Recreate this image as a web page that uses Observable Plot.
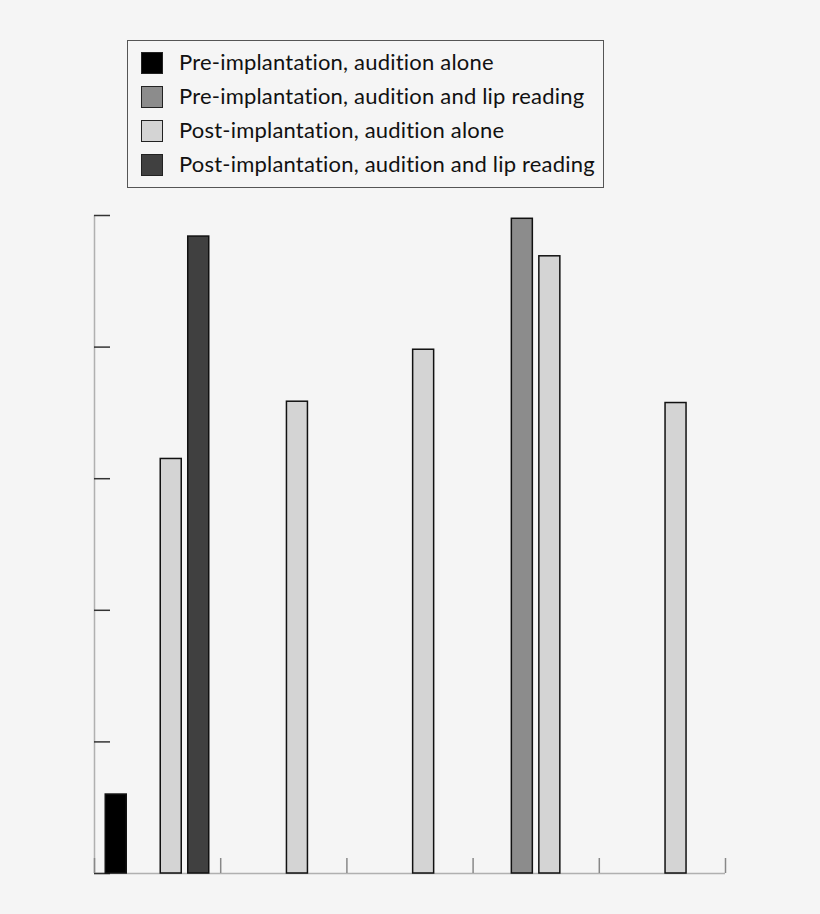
<!DOCTYPE html>
<html>
<head>
<meta charset="utf-8">
<script src="https://cdn.jsdelivr.net/npm/d3@7"></script>
<script src="https://cdn.jsdelivr.net/npm/@observablehq/plot@0.6"></script>
<style>
  html, body { margin: 0; padding: 0; background: #f5f5f5; }
  #wrap { position: relative; width: 820px; height: 914px; background: #f5f5f5; }
  #legend { position: absolute; left: 127px; top: 40px; width: 475px; height: 146px;
    border: 1px solid #555; background: #f5f5f5; font-family: Lato, "Noto Sans", sans-serif;
    font-size: 22px; letter-spacing: 0.2px; color: #111; }
  .row { position: absolute; left: 0; height: 34px; display: flex; align-items: center; }
  .sw { width: 20px; height: 20px; border: 1.5px solid #222; margin-left: 13px; margin-right: 16px; }
  .row span { position: relative; top: -2px; }
  #chart { position: absolute; left: 0; top: 200px; }
</style>
</head>
<body>
<div id="wrap">
  <div id="legend"></div>
  <div id="chart"></div>
</div>
<script>
const groups = ["1", "2", "3", "4", "5"];
const seriesNames = [
  "Pre-implantation, audition alone",
  "Pre-implantation, audition and lip reading",
  "Post-implantation, audition alone",
  "Post-implantation, audition and lip reading"
];
const seriesColors = ["#000000", "#8c8c8c", "#d4d4d4", "#404040"];
const preAlone = [12, null, null, null, null];
const preLip = [null, null, null, 99.5, null];
const postAlone = [63, 71.7, 79.6, 93.8, 71.5];
const postLip = [96.8, null, null, null, null];
const yTicks = [0, 20, 40, 60, 80, 100];

const seriesValues = [preAlone, preLip, postAlone, postLip];
const data = [];
seriesValues.forEach((vals, si) => {
  vals.forEach((v, gi) => {
    if (v != null) data.push({group: groups[gi], gi, si, series: seriesNames[si], value: v});
  });
});

// legend
const legend = document.getElementById("legend");
seriesNames.forEach((name, i) => {
  const row = document.createElement("div");
  row.className = "row";
  row.style.top = (5 + i * 34) + "px";
  const sw = document.createElement("div");
  sw.className = "sw";
  sw.style.background = seriesColors[i];
  const t = document.createElement("span");
  t.textContent = name;
  row.appendChild(sw); row.appendChild(t);
  legend.appendChild(row);
});

const off = 0.0891, pitch = 0.2179, bw = 0.1664;
const chart = Plot.plot({
  width: 820,
  height: 714,
  marginLeft: 94,
  marginRight: 95,
  marginTop: 15,
  marginBottom: 41,
  style: {background: "#f5f5f5"},
  x: {domain: [0, groups.length], axis: null},
  y: {domain: [0, 100], axis: null},
  color: {domain: seriesNames, range: seriesColors},
  marks: [
    Plot.ruleX([0], {stroke: "#b0b0b0", strokeWidth: 1.5}),
    Plot.ruleY([0], {stroke: "#b0b0b0", strokeWidth: 1.5}),
    Plot.axisY({ticks: yTicks, tickSize: -16, tickFormat: () => "", label: null, stroke: "#333", strokeWidth: 1.5}),
    Plot.axisX({ticks: d3.range(groups.length + 1), tickSize: -15, tickFormat: () => "", label: null, stroke: "#888", strokeWidth: 1.5}),
    Plot.rectY(data, {
      x1: d => d.gi + off + d.si * pitch,
      x2: d => d.gi + off + d.si * pitch + bw,
      y1: 0,
      y2: "value",
      fill: "series",
      stroke: "#111",
      strokeWidth: 1.5
    })
  ]
});
document.getElementById("chart").appendChild(chart);
</script>
</body>
</html>
